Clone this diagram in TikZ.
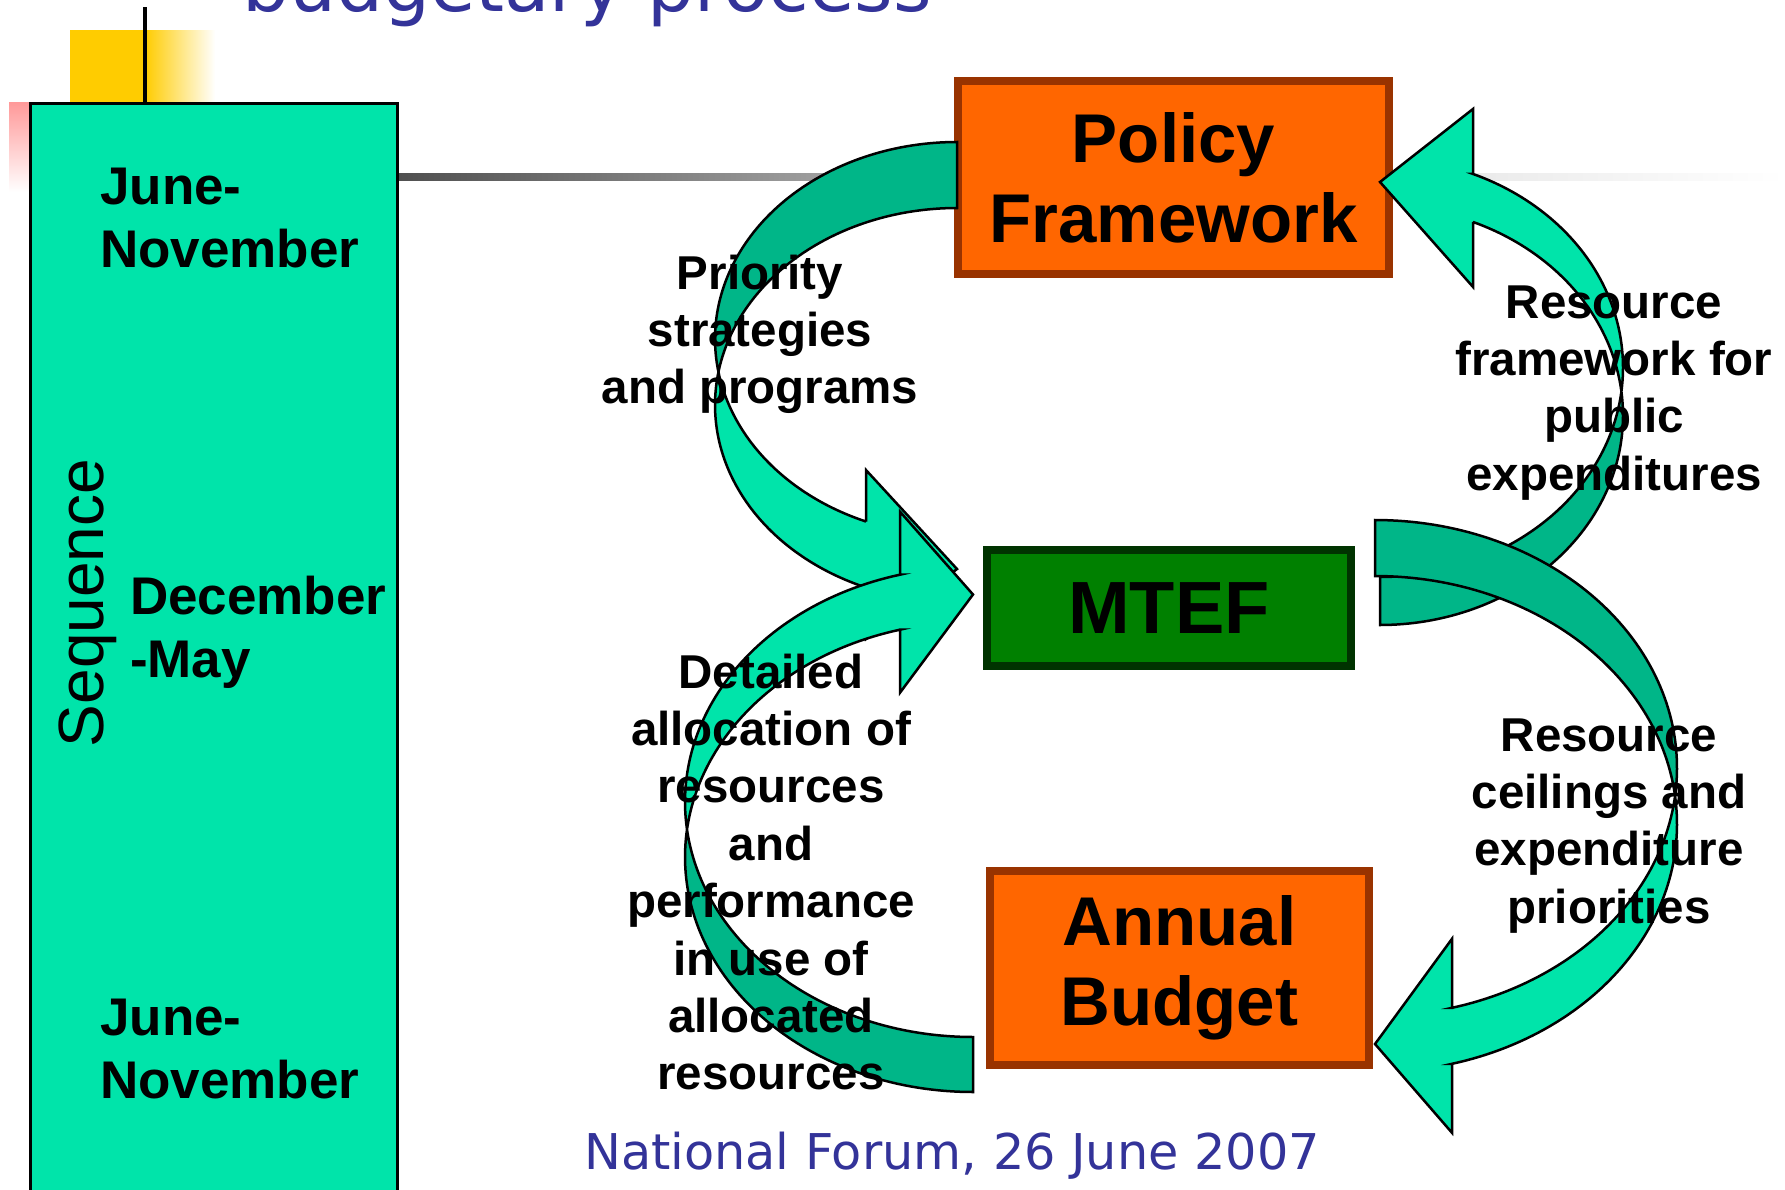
\documentclass[tikz,border=0pt]{standalone}
\usepackage{fontspec}
\usepackage{graphicx}
\setmainfont{Liberation Sans}
\newfontfamily\tahfont{DejaVu Sans}
\definecolor{tealA}{HTML}{00E4AA}
\definecolor{tealB}{HTML}{00B688}
\definecolor{orng}{HTML}{FF6600}
\definecolor{brn}{HTML}{993300}
\definecolor{grn}{HTML}{008000}
\definecolor{dgrn}{HTML}{003300}
\definecolor{navy}{HTML}{333399}
\definecolor{gold}{HTML}{FFCC00}
\definecolor{pinkc}{HTML}{FF9999}
\definecolor{gA}{HTML}{505050}
\definecolor{gB}{HTML}{A0A0A0}
\definecolor{gC}{HTML}{ECECEC}
\newcommand\mlc[1]{\vtop{\halign{\hfil##\hfil\cr#1\crcr}}}
\newcommand\mll[1]{\vtop{\halign{##\hfil\cr#1\crcr}}}
% #1 x, #2 y, #3 xscale, #4 yscale, #5 w, #6 hR, #7 th, #8 ah, #9 aw
\newcommand\curvarrow[9]{%
 \pgfmathsetmacro\arTh{acos(-(#8)/(#5))}%
 \pgfmathsetmacro\arYf{#6+#6*sin(\arTh)}%
 \pgfmathsetmacro\arDh{(#9-#7)/2}%
 \pgfmathsetmacro\arYa{\arYf-\arDh}%
 \pgfmathsetmacro\arYg{\arYf+#7}%
 \pgfmathsetmacro\arYb{\arYg+\arDh}%
 \pgfmathsetmacro\arYt{2*#6+#7/2}%
 \pgfmathsetmacro\arCa{180-asin((#7)/(2*#6))}%
 \pgfmathsetmacro\arCb{180+asin((#7)/(2*#6))}%
 \begin{scope}[shift={(#1,#2)},xscale=#3,yscale=#4]
  \path[arrfront] (0,0) -- plot[domain=270:\arTh,samples=120] ({#5*cos(\x)},{#6+#6*sin(\x)}) -- (-#8,\arYf) -- (-#8,\arYa) -- (0,\arYt) -- (-#8,\arYb) -- (-#8,\arYg) -- plot[domain=\arTh:270,samples=120] ({#5*cos(\x)},{#6+#7+#6*sin(\x)}) -- (0,#7) -- cycle;
  \path[arrback] (0,0) -- plot[domain=270:\arCa,samples=100] ({#5*cos(\x)},{#6+#6*sin(\x)}) -- plot[domain=\arCb:270,samples=100] ({#5*cos(\x)},{#6+#7+#6*sin(\x)}) -- (0,#7) -- cycle;
  \path[arrline] (0,0) -- plot[domain=270:\arTh,samples=120] ({#5*cos(\x)},{#6+#6*sin(\x)}) -- (-#8,\arYf) -- (-#8,\arYa) -- (0,\arYt) -- (-#8,\arYb) -- (-#8,\arYg) -- plot[domain=\arTh:270,samples=120] ({#5*cos(\x)},{#6+#7+#6*sin(\x)}) -- (0,#7) -- cycle;
 \end{scope}}
\tikzset{
 arrfront/.style={fill=tealA},
 arrback/.style={fill=tealB},
 arrline/.style={draw=black, line width=2.5pt, line join=miter},
 orbox/.style={draw=brn, fill=orng, line width=8pt, inner sep=0pt, align=center,
   font=\fontsize{69}{80}\selectfont\bfseries},
 gbox/.style={draw=dgrn, fill=grn, line width=8pt, inner sep=0pt,
   font=\fontsize{74}{80}\selectfont\bfseries},
 lbl/.style={inner sep=0pt, anchor=base, font=\fontsize{47.5}{57.4}\selectfont\bfseries},
 mon/.style={inner sep=0pt, anchor=base west, font=\fontsize{53}{63.5}\selectfont\bfseries},
 navytext/.style={inner sep=0pt, anchor=base west, text=navy},
}
\begin{document}
\begin{tikzpicture}[x=1pt,y=-1pt]
\useasboundingbox (0,0) rectangle (1785,1189);
\clip (0,0) rectangle (1785,1189);
\fill[white] (0,0) rectangle (1785,1189);
% title (cut off at the top edge, as in the slide)
\node[navytext, font=\tahfont\fontsize{74}{80}\selectfont] (title) at (242,11) {budgetary process};
% decorations
\fill[gold] (70,30) rectangle (145,102);
\shade[left color=gold, right color=white] (145,30) rectangle (215,102);
\shade[top color=pinkc, bottom color=white] (9,102) rectangle (30,192);
\draw[line width=4pt] (145,7) -- (145,102);
% sequence column
\draw[fill=tealA, line width=3pt] (30,103) rectangle (397,1220);
% grey rule
\shade[left color=gA, right color=gB] (399,173) rectangle (830,180);
\shade[left color=gB, right color=gC] (830,173) rectangle (1500,180);
\shade[left color=gC, right color=white] (1500,173) rectangle (1785,180);
% column texts
\node[mon] (jn1) at (100,204) {\mll{June-\cr November}};
\node[mon] (dm) at (130,614) {\mll{December\cr -May}};
\node[mon] (jn2) at (100,1035) {\mll{June-\cr November}};
\node[inner sep=0pt, anchor=base, rotate=90, font=\fontsize{64}{70}\selectfont] (seq) at (103,603) {Sequence};
% boxes
\node[orbox, minimum width=431pt, minimum height=193pt] (pf) at (1173.5,177.5) {\mlc{Policy\cr Framework}};
\node[gbox, minimum width=364pt, minimum height=116pt] (mtef) at (1169,608) {MTEF};
\node[orbox, minimum width=379pt, minimum height=194pt] (ab) at (1179.5,968) {\mlc{Annual\cr Budget}};
% curved arrows
\curvarrow{957}{142}{1}{1}{242}{197}{66}{91}{169}
\curvarrow{973}{1092}{1}{-1}{288}{235}{55}{73}{181}
\curvarrow{1380}{625}{-1}{-1}{243}{209.5}{48}{93}{178}
\curvarrow{1375}{520}{-1}{1}{302}{248}{56}{77}{194}
% labels
\node[lbl] (l1) at (760,289) {\mlc{Priority\cr strategies\cr and programs}};
\node[lbl] (l2) at (1614,318) {\mlc{Resource\cr framework for\cr public\cr expenditures}};
\node[lbl] (l3) at (771,688) {\mlc{Detailed\cr allocation of\cr resources\cr and\cr performance\cr in use of\cr allocated\cr resources}};
\node[lbl] (l4) at (1609,751) {\mlc{Resource\cr ceilings and\cr expenditure\cr priorities}};
% footer
\node[navytext, font=\tahfont\fontsize{49.3}{58}\selectfont] (foot) at (584,1169) {National Forum, 26 June 2007};
\end{tikzpicture}
\end{document}
